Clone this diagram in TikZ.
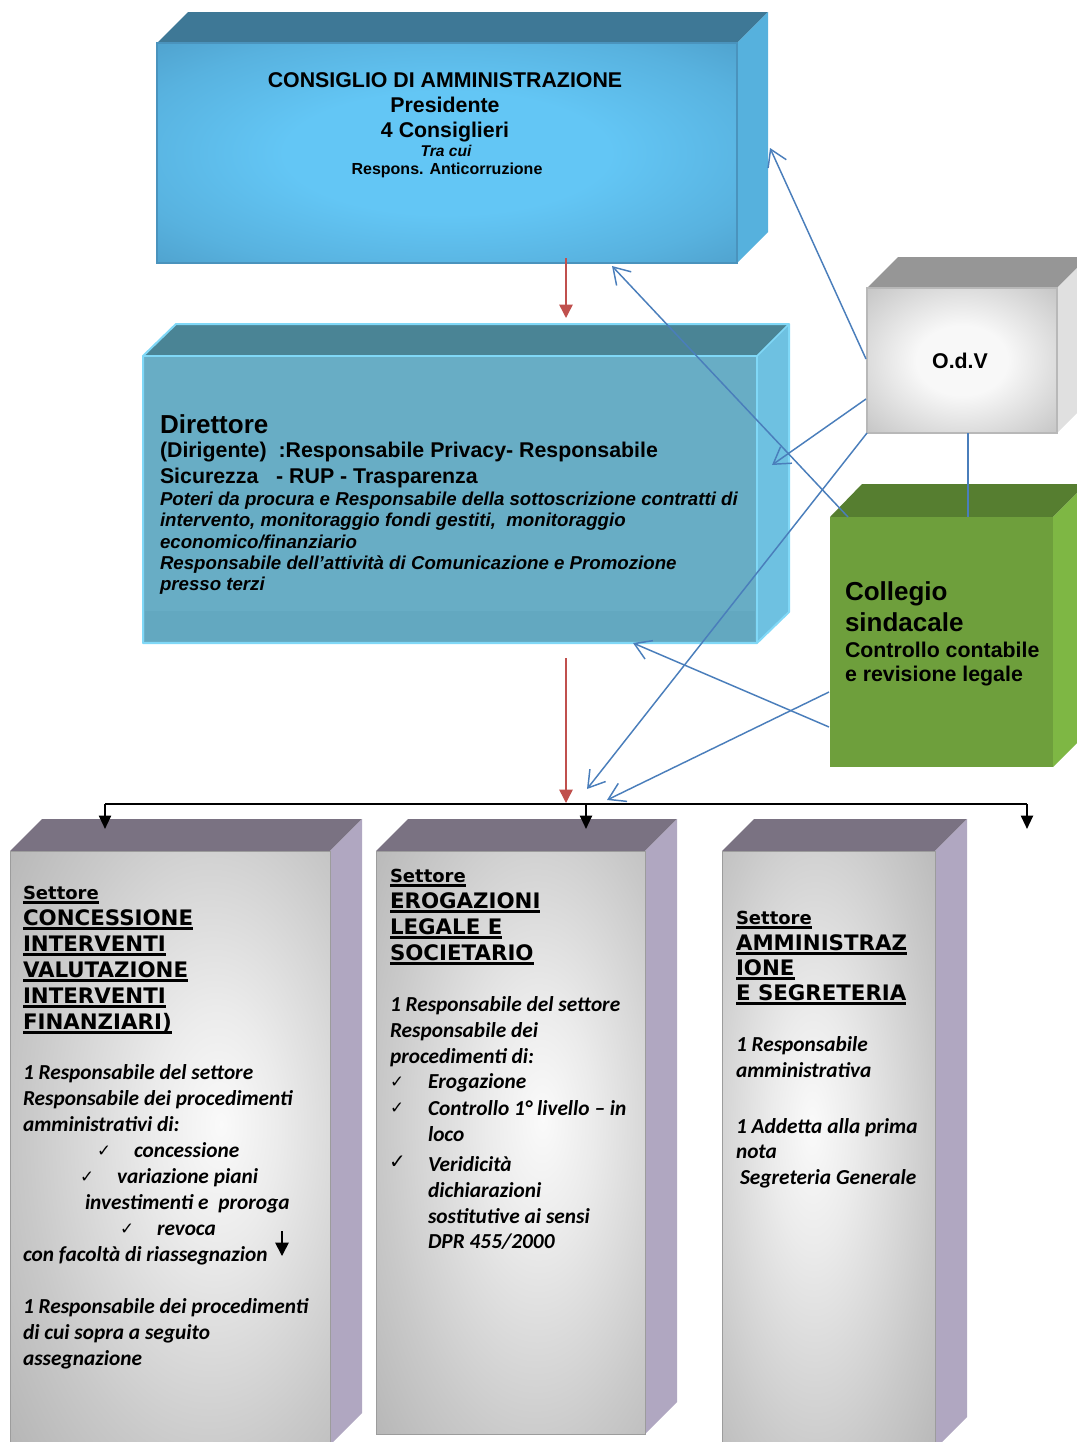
\documentclass[tikz,border=0pt]{standalone}
\usepackage{fontspec}
\setmainfont{Liberation Sans}
\newfontfamily\verdf{DejaVu Sans}
\newfontfamily\calf{Carlito}
\newfontfamily\symf{DejaVu Sans}
\usetikzlibrary{arrows.meta}

\definecolor{cdaTop}{HTML}{3E7896}
\definecolor{cdaSide}{HTML}{56B1DD}
\definecolor{cdaIn}{HTML}{63C6F5}
\definecolor{cdaMid}{HTML}{58B2DF}
\definecolor{cdaOut}{HTML}{4B9AC5}
\definecolor{cdaLine}{HTML}{4A93BD}
\definecolor{dirFront}{HTML}{68ADC5}
\definecolor{dirTop}{HTML}{4A8495}
\definecolor{dirSide}{HTML}{6EC1E1}
\definecolor{dirEdge}{HTML}{80D8F7}
\definecolor{dirBand}{HTML}{63A8C0}
\definecolor{odvTop}{HTML}{969696}
\definecolor{odvSide}{HTML}{E0E0E0}
\definecolor{odvIn}{HTML}{F8F8F8}
\definecolor{odvOut}{HTML}{A6A6A6}
\definecolor{odvLine}{HTML}{B8B8B8}
\definecolor{colTop}{HTML}{567E30}
\definecolor{colFront}{HTML}{6E9F3C}
\definecolor{colSide}{HTML}{7EB744}
\definecolor{secTop}{HTML}{7A7282}
\definecolor{secSide}{HTML}{B0A7C1}
\definecolor{secIn}{HTML}{FAFAFA}
\definecolor{secHi}{HTML}{EBEBEB}
\definecolor{secMid}{HTML}{C9C9C9}
\definecolor{secOut}{HTML}{AFAFAF}
\definecolor{secLine}{HTML}{9C9C9C}
\definecolor{connBlue}{HTML}{4A7EBB}
\definecolor{arrRed}{HTML}{C0504D}

\pgfdeclareradialshading{cdash}{\pgfpoint{0bp}{0bp}}{color(0bp)=(cdaIn); color(14bp)=(cdaIn); color(28bp)=(cdaMid); color(40bp)=(cdaOut); color(100bp)=(cdaOut)}
\pgfdeclareradialshading{odvsh}{\pgfpoint{0bp}{0bp}}{color(0bp)=(odvIn); color(12bp)=(odvIn); color(50bp)=(odvOut); color(100bp)=(odvOut)}
\pgfdeclareradialshading{secshA}{\pgfpoint{8bp}{2bp}}{color(0bp)=(secIn); color(10bp)=(secHi); color(28bp)=(secMid); color(44bp)=(secOut); color(100bp)=(secOut)}
\pgfdeclareradialshading{secshB}{\pgfpoint{6bp}{2bp}}{color(0bp)=(secIn); color(10bp)=(secHi); color(28bp)=(secMid); color(44bp)=(secOut); color(100bp)=(secOut)}
\pgfdeclareradialshading{secshC}{\pgfpoint{-4bp}{2bp}}{color(0bp)=(secIn); color(10bp)=(secHi); color(28bp)=(secMid); color(44bp)=(secOut); color(100bp)=(secOut)}

\newcommand{\myul}[1]{\setbox0\hbox{#1}\rlap{\vrule width \wd0 height -1.8pt depth 3.4pt}\box0}

\begin{document}
\begin{tikzpicture}[x=0.75pt,y=-0.75pt,
  tl/.style={inner sep=0pt, outer sep=0pt, anchor=base west},
  tcn/.style={inner sep=0pt, outer sep=0pt, anchor=base},
  bluearr/.style={draw=connBlue, line width=1.1pt, -{Straight Barb[length=12pt,width=15pt]}},
  blueline/.style={draw=connBlue, line width=1.5pt},
  redarr/.style={draw=arrRed, line width=1.1pt, -{Triangle[length=10pt,width=10pt]}},
  blkline/.style={draw=black, line width=1.5pt},
  blkarr/.style={draw=black, line width=1.5pt, -{Triangle[length=10pt,width=9pt]}},
  body/.style={tl, font=\calf\bfseries\itshape\fontsize{16}{19.5}\selectfont},
  sectt/.style={tl, font=\verdf\bfseries\fontsize{16}{19}\selectfont},
  sects/.style={tl, font=\verdf\bfseries\fontsize{13.5}{16}\selectfont},
  chk/.style={tl, font=\symf\fontsize{12.5}{14}\selectfont},
  bigb/.style={font=\bfseries\fontsize{16}{19}\selectfont},
  hugeb/.style={font=\bfseries\fontsize{19.5}{23}\selectfont},
  itb/.style={tl, font=\bfseries\itshape\fontsize{14}{16}\selectfont},
]
\useasboundingbox (0,0) rectangle (1077,1442);
\clip (0,0) rectangle (1077,1442);

% ---------- CdA box
\fill[cdaTop] (157,43) -- (188,12) -- (768,12) -- (737,43) -- cycle;
\fill[cdaSide] (737,43) -- (768,12) -- (768,232) -- (737,263) -- cycle;
\shade[shading=cdash] (157,43) rectangle (737,263);
\draw[cdaLine, line width=0.8pt] (157,43) rectangle (737,263);

% ---------- Direttore box
\fill[dirTop] (143,356) -- (176,324) -- (789,324) -- (757,356) -- cycle;
\fill[dirSide] (757,356) -- (789,324) -- (789,612) -- (757,643) -- cycle;
\fill[dirFront] (143,356) rectangle (757,643);
\fill[dirBand] (145,611) rectangle (755,641);
\draw[dirEdge, line width=1.5pt, line join=round] (143,356) -- (176,324) -- (789,324) -- (789,612) -- (757,643) -- (143,643) -- cycle;
\draw[dirEdge, line width=1.2pt] (143,356) -- (757,356) -- (789,324) (757,356) -- (757,643);

% ---------- ODV box
\fill[odvTop] (867,288) -- (898,257) -- (1088,257) -- (1057,288) -- cycle;
\fill[odvSide] (1057,288) -- (1088,257) -- (1088,402) -- (1057,433) -- cycle;
\shade[shading=odvsh] (867,288) rectangle (1057,433);
\draw[odvLine, line width=0.8pt] (867,288) rectangle (1057,433);

% ---------- Collegio box
\fill[colTop] (830,517) -- (862,484) -- (1086,484) -- (1053,517) -- cycle;
\fill[colSide] (1053,517) -- (1086,484) -- (1086,734) -- (1053,767) -- cycle;
\fill[colFront] (830,517) rectangle (1053,767);

% ---------- Sector boxes
\fill[secTop] (10,851) -- (42,819) -- (362,819) -- (330,851) -- cycle;
\fill[secSide] (330,851) -- (362,819) -- (362,1413) -- (330,1445) -- cycle;
\shade[shading=secshA] (10,851) rectangle (330,1445);
\draw[secLine, line width=0.6pt] (10,851) rectangle (330,1445);

\fill[secTop] (376,851) -- (408,819) -- (677,819) -- (645,851) -- cycle;
\fill[secSide] (645,851) -- (677,819) -- (677,1402) -- (645,1434) -- cycle;
\shade[shading=secshB] (376,851) rectangle (645,1434);
\draw[secLine, line width=0.6pt] (376,851) rectangle (645,1434);

\fill[secTop] (722,851) -- (754,819) -- (967,819) -- (935,851) -- cycle;
\fill[secSide] (935,851) -- (967,819) -- (967,1417) -- (935,1449) -- cycle;
\shade[shading=secshC] (722,851) rectangle (935,1449);
\draw[secLine, line width=0.6pt] (722,851) rectangle (935,1449);

% ---------- Texts: CdA
\node[tcn, bigb] (cdaT1) at (445,87) {CONSIGLIO DI AMMINISTRAZIONE};
\node[tcn, bigb] (cdaT2) at (445,112) {Presidente};
\node[tcn, bigb] (cdaT3) at (445,137) {4 Consiglieri};
\node[tcn, font=\bfseries\itshape\fontsize{11.7}{14}\selectfont] (cdaT4) at (446,156) {Tra cui};
\node[tcn, font=\bfseries\fontsize{12}{14}\selectfont] (cdaT5) at (447,174) {Respons. Anticorruzione};

% ---------- Texts: Direttore
\node[tl, hugeb] (dirT1) at (160,433) {Direttore};
\node[tl, bigb] (dirT2) at (160,457) {(Dirigente)\ \ :Responsabile Privacy- Responsabile};
\node[tl, bigb] (dirT3) at (160,483) {Sicurezza\ \ \ - RUP - Trasparenza};
\node[itb] (dirT4) at (160,505) {Poteri da procura e Responsabile della sottoscrizione contratti di};
\node[itb] (dirT5) at (160,526) {intervento, monitoraggio fondi gestiti,\ \ monitoraggio};
\node[itb] (dirT6) at (160,548) {economico/finanziario};
\node[itb] (dirT7) at (160,569) {Responsabile dell’attività di Comunicazione e Promozione};
\node[itb] (dirT8) at (160,590) {presso terzi};

% ---------- Texts: ODV, Collegio
\node[tcn, bigb] (odvT) at (960,368) {O.d.V};
\node[tl, hugeb] (colT1) at (845,600) {Collegio};
\node[tl, hugeb] (colT2) at (845,631) {sindacale};
\node[tl, bigb] (colT3) at (845,657) {Controllo contabile};
\node[tl, bigb] (colT4) at (845,681) {e revisione legale};

% ---------- Sector 1
\node[sects] (s1t0) at (23,899) {\myul{Settore}};
\node[sectt] (s1t1) at (23,925) {\myul{CONCESSIONE}};
\node[sectt] (s1t2) at (23,951) {\myul{INTERVENTI}};
\node[sectt] (s1t3) at (23,977) {\myul{VALUTAZIONE}};
\node[sectt] (s1t4) at (23,1003) {\myul{INTERVENTI}};
\node[sectt] (s1t5) at (23,1029) {\myul{FINANZIARI)}};
\node[body] (s1b1) at (23,1079) {1 Responsabile del settore};
\node[body] (s1b2) at (23,1105) {Responsabile dei procedimenti};
\node[body] (s1b3) at (23,1131) {amministrativi di:};
\node[chk] (s1c1) at (97,1156) {✓};
\node[body] (s1b4) at (134,1157) {concessione};
\node[chk] (s1c2) at (80,1182) {✓};
\node[body] (s1b5) at (117,1183) {variazione piani};
\node[body] (s1b6) at (85,1209) {investimenti e\ \ proroga};
\node[chk] (s1c3) at (120,1234) {✓};
\node[body] (s1b7) at (157,1235) {revoca};
\node[body] (s1b8) at (23,1261) {con facoltà di riassegnazion};
\node[body] (s1b9) at (23,1313) {1 Responsabile dei procedimenti};
\node[body] (s1b10) at (23,1339) {di cui sopra a seguito};
\node[body] (s1b11) at (23,1365) {assegnazione};
\coordinate (s1ArrA) at (282,1231);
\coordinate (s1ArrB) at (282,1256);
\draw[draw=black, line width=1.2pt, -{Triangle[length=10pt,width=10pt]}] (s1ArrA) -- (s1ArrB);

% ---------- Sector 2
\node[sects] (s2t0) at (390,882) {\myul{Settore}};
\node[sectt] (s2t1) at (390,908) {\myul{EROGAZIONI}};
\node[sectt] (s2t2) at (390,934) {\myul{LEGALE E}};
\node[sectt] (s2t3) at (390,960) {\myul{SOCIETARIO}};
\node[body] (s2b1) at (390,1011) {1 Responsabile del settore};
\node[body] (s2b2) at (390,1037) {Responsabile dei};
\node[body] (s2b3) at (390,1063) {procedimenti di:};
\node[chk] (s2c1) at (390,1087) {✓};
\node[body] (s2b4) at (428,1088) {Erogazione};
\node[chk] (s2c2) at (390,1113) {✓};
\node[body] (s2b5) at (428,1115) {Controllo 1° livello – in};
\node[body] (s2b6) at (428,1141) {loco};
\node[chk, font=\symf\fontsize{15}{17}\selectfont] (s2c3) at (389,1168) {✓};
\node[body] (s2b7) at (428,1171) {Veridicità};
\node[body] (s2b8) at (428,1197) {dichiarazioni};
\node[body] (s2b9) at (428,1223) {sostitutive ai sensi};
\node[body] (s2b10) at (428,1248) {DPR 455/2000};

% ---------- Sector 3
\node[sects] (s3t0) at (736,924) {\myul{Settore}};
\node[sectt] (s3t1) at (736,950) {\myul{AMMINISTRAZ}};
\node[sectt] (s3t2) at (736,975) {\myul{IONE}};
\node[sectt] (s3t3) at (736,1000) {\myul{E SEGRETERIA}};
\node[body] (s3b1) at (736,1051) {1 Responsabile};
\node[body] (s3b2) at (736,1077) {amministrativa};
\node[body] (s3b3) at (736,1133) {1 Addetta alla prima};
\node[body] (s3b4) at (736,1158) {nota};
\node[body] (s3b5) at (740,1184) {Segreteria Generale};

% ---------- Connector coordinates
\coordinate (odvA) at (866,359);
\coordinate (cdaR) at (770,148);
\coordinate (odvB) at (866,399);
\coordinate (dirR) at (772,465);
\coordinate (odvC) at (867,433);
\coordinate (busA) at (587,789);
\coordinate (colA) at (848,517);
\coordinate (cdaB) at (612,266);
\coordinate (colB) at (829,727);
\coordinate (dirB) at (633,643);
\coordinate (colC) at (829,692);
\coordinate (busB) at (607,800);
\coordinate (odvS) at (968,433);
\coordinate (colN) at (968,517);
\coordinate (cdaS) at (566,258);
\coordinate (dirN) at (566,318);
\coordinate (dirS) at (566,658);
\coordinate (busM) at (566,803);
\coordinate (busL) at (105,804);
\coordinate (busC) at (586,804);
\coordinate (busR) at (1027,804);
\coordinate (s1N) at (105,829);
\coordinate (s2N) at (586,829);
\coordinate (s3N) at (1027,829);

% ---------- Connectors
\draw[blkline] (busL) -- (busR);
\draw[blkarr] (busL) -- (s1N);
\draw[blkarr] (busC) -- (s2N);
\draw[blkarr] (busR) -- (s3N);
\draw[redarr] (cdaS) -- (dirN);
\draw[redarr] (dirS) -- (busM);
\draw[bluearr] (odvA) -- (cdaR);
\draw[bluearr] (odvB) -- (dirR);
\draw[bluearr] (odvC) -- (busA);
\draw[bluearr] (colA) -- (cdaB);
\draw[bluearr] (colB) -- (dirB);
\draw[bluearr] (colC) -- (busB);
\draw[blueline] (odvS) -- (colN);
\end{tikzpicture}
\end{document}
